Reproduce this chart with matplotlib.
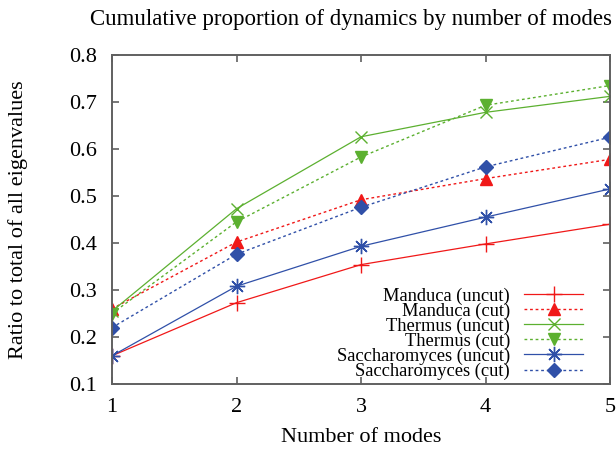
import matplotlib
matplotlib.use('Agg')
import matplotlib.pyplot as plt

plt.rcParams['font.family'] = ['Liberation Serif', 'DejaVu Serif']

modes = [1, 2, 3, 4, 5]
manduca_uncut = [0.160, 0.273, 0.354, 0.398, 0.440]
manduca_cut = [0.260, 0.402, 0.492, 0.537, 0.578]
thermus_uncut = [0.255, 0.473, 0.626, 0.678, 0.712]
thermus_cut = [0.250, 0.445, 0.583, 0.693, 0.735]
sacch_uncut = [0.160, 0.308, 0.393, 0.455, 0.515]
sacch_cut = [0.220, 0.376, 0.476, 0.562, 0.625]

red = '#f01818'
green = '#5cb030'
blue = '#3050a8'
dots = (0, (2, 2))

fig = plt.figure(figsize=(6.16, 4.49), dpi=100)
ax = fig.add_axes([112 / 616, 1 - 384 / 449, 498 / 616, 329 / 449])

ax.plot(modes, manduca_uncut, color=red, lw=0.9, marker='+', ms=11, mew=1.0,
        label='Manduca (uncut)')
ax.plot(modes, manduca_cut, color=red, lw=1.0, ls=dots, marker='^', ms=8,
        label='Manduca (cut)')
ax.plot(modes, thermus_uncut, color=green, lw=0.9, marker='x', ms=9, mew=1.0,
        label='Thermus (uncut)')
ax.plot(modes, thermus_cut, color=green, lw=1.0, ls=dots, marker='v', ms=8,
        label='Thermus (cut)')
ax.plot(modes, sacch_uncut, color=blue, lw=0.9, marker=(8, 2, 0), ms=11, mew=1.0,
        label='Saccharomyces (uncut)')
ax.plot(modes, sacch_cut, color=blue, lw=1.0, ls=dots, marker='D', ms=7,
        label='Saccharomyces (cut)')

ax.set_xlim(1, 5)
ax.set_ylim(0.1, 0.8)
ax.set_xticks(modes)
ax.set_yticks([0.1, 0.2, 0.3, 0.4, 0.5, 0.6, 0.7, 0.8])

for s in ax.spines.values():
    s.set_color('#606060')
    s.set_linewidth(1.4)
ax.tick_params(direction='in', length=5, width=1.2, color='#606060',
               top=True, right=True, labelsize=16)
ax.tick_params(axis='y', pad=11)
ax.tick_params(axis='x', pad=10)

ax.set_xlabel('Number of modes', fontsize=16)
ax.set_ylabel('Ratio to total of all eigenvalues', fontsize=16)
ax.xaxis.set_label_coords(0.5, -0.133)
ax.yaxis.set_label_coords(-0.168, 0.5)
fig.text(351 / 616, 1 - 20 / 449, 'Cumulative proportion of dynamics by number of modes',
         ha='center', va='center', fontsize=16.5)

ax.legend(loc='lower right', bbox_to_anchor=(0.946, 0.012), frameon=False,
          markerfirst=False, fontsize=13.3, handlelength=3.2, handletextpad=0.75,
          labelspacing=-0.12, borderpad=0, borderaxespad=0)

fig.savefig('out.png', dpi=100)
